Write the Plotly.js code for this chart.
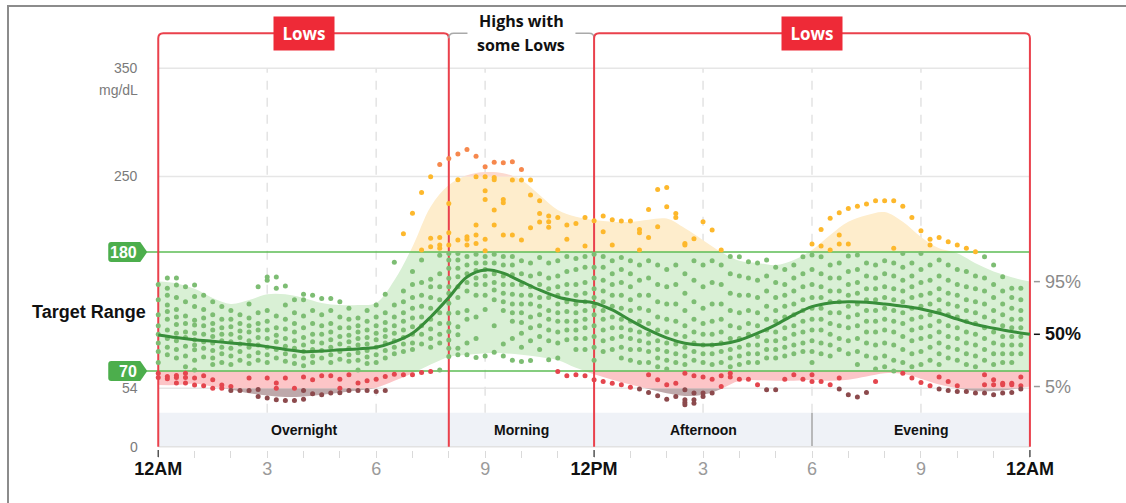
<!DOCTYPE html>
<html><head><meta charset="utf-8">
<script src="https://cdn.plot.ly/plotly-3.0.1.min.js"></script>
<style>
html,body{margin:0;padding:0;background:#fff;overflow:hidden}
#chart{width:1126px;height:503px;position:absolute;left:0;top:0}
#frame{position:absolute;left:7px;top:5px;width:1200px;height:600px;border-left:2px solid #8c8c8c;border-top:2px solid #8c8c8c;pointer-events:none}
</style></head><body>
<div id="chart"></div><div id="frame"></div>
<script>
// ---------------- DATA ----------------
const pctHours = [0,0.5,1,1.5,2,2.5,3,3.5,4,4.5,5,5.5,6,6.5,7,7.5,8,8.5,9,9.5,10,10.5,11,11.5,12,12.5,13,13.5,14,14.5,15,15.5,16,16.5,17,17.5,18,18.5,19,19.5,20,20.5,21,21.5,22,22.5,23,23.5,24];
const p95 = [152.7,151,146,137.6,132,135.7,141,141,137.6,133,131,131,133,154,185,222,242,251,254,253,246.6,232.7,219,212.7,209.6,208,208,210,211,202,191,180,172,170,168,172.7,182,195.8,208,214,217,208,194,183.5,179,169.6,162,156.7,152.7];
const p50 = [103.4,101,99,97.5,96,94.5,92.6,90,88,88.5,89.6,90.5,92,97,105,120,138,157,163.5,160.5,152.7,145,138.5,135,133,126.5,117,108,100.6,95.7,94,95,98.5,105,112.7,122,129.6,133,134,133.6,132,130,127.4,123.4,118,113,109.6,106.5,104];
const p5 = [57,57,58.5,55.5,53,49.5,47.5,46,46.5,48,50,52,54.5,61,68,76,83,85,86.5,86.5,85,83,80,73,67,62,57.5,53.5,49.5,47,48,53.5,61,61.5,61,61,62,61,62,65,68,67.5,63,57.5,54,51.5,51.5,53,55.7];
const pctLabels = ['95%','50%','5%'];

const veryLow = 54, low = 70, high = 180, veryHigh = 250;

const periodNames = ['Overnight','Morning','Afternoon','Evening'];
const periodStarts = [0,8,12,18];
const periodEnds = [8,12,18,24];
const patternStarts = [0,8,12];
const patternEnds = [8,12,24];
const patternLabels = ['Lows','Highs with|some Lows','Lows'];
const patternIsLow = [true,false,true];

const xTickVals = [0,3,6,9,12,15,18,21,24];
const xTickText = ['12AM','3','6','9','12PM','3','6','9','12AM'];
const yTickVals = [0,54,250,350];
const yTickText = ['0','54','250','350'];
const yUnit = 'mg/dL';
const targetLabel = 'Target Range';

const slotHours = 0.25; // readings grouped every 15 minutes

const overnightReadings = [
 [150,136,122,112,104,96,88,78,68,64],
 [156,146.5,140,131,125,118,108,100,92,85,65,63],
 [156,149.6,138,127,120,113,105,98,90,82,66,64,59],
 [148,134,121,114,106,101,93,84,74,68,64,59],
 [149.6,139,129.6,117,112.6,105,99,94,89.6,80,71,63.5,57],
 [140,127,119,112,104,97,91,83,65.6,56.4],
 [134,122,114,108,102,96,89,82,76,62,54],
 [129.6,118,110,104,98,92,86,78,57,54],
 [126,118,111,104,97,91,84,76,55.7,52],
 [122,114,107,101,95,88,80,52],
 [132,119,112,106,98,92,84,77,63.5,52],
 [148,124,114,108,101,94,87,80,53,46.5],
 [157,154,126,116,108,100,92,85,78,63.5,45],
 [157,146.5,121,110,103,97,90,82,59,54,43.4],
 [148.7,131,118,109,100,93,86,79,63.5,42.8],
 [136,124,114,106,98,91,84,77,54,42.8],
 [141,136,121,110,101,94,88,82,75,64.4,52,44],
 [140,126,114,104,97,90,84,78,62,49],
 [137,122,112,104,96,89,82,65.6,48],
 [137,126,114,106,99,92,85,78,65.6,49.6],
 [134,120,110,102,95,88,81,62.5,54,50],
 [128,118,110,103,97,91,85,79,66.5,52],
 [119,112,106,100,94,87,80,71,59,52],
 [126,116,108,101,95,89,83,77,61,52],
 [131,120,112,105,99,92,85,78,62.5,51],
 [141,124,115,108,102,96,89,82,65,52],
 [170.5,131,120,112,105,98,92,86,67],
 [197,144,134,124,116,108,101,95,88,66.5],
 [216,162,150,138,128,119,111,104,96,90,66.5],
 [235,182,172.7,152,140,130,120,112,104,95,68.7],
 [249.6,192.7,185,155,148,138,128,118,109,100,92,69.6],
 [261,193.6,186.5,183.5,177,160,148,136,124,114,104,96,71]
];
const morningReadings = [
 [266.6,225,198,186.5,178.8,172.7,165,155.8,148,141.9,132.7,123.5,114.2,106.5,98.8,91.1,83.4],
 [270.6,247,191.2,178.8,172.7,165,157.3,148,138,124,111,103.5,91,85],
 [274.9,194.2,191.8,186.5,176,168,160,152,144,126,118,96,85],
 [268.7,249.6,205,195.8,188,178,170,163,156,150,140,120,100,82.5],
 [258.9,249.6,236.7,228.7,191.8,181.3,176,170,164,158,150,140,127,84],
 [263,249,247,218.9,205,178,170,160,152,145,136,112,87.4],
 [262.6,228.7,225.6,195.8,176,168,158,150,142,134,126,95,84],
 [263.5,246.6,195.8,176,168,159,150,141,132,124,116,100,80],
 [256.4,246.6,191.2,172,160,150,140,132,124,115,105,92,78.8],
 [246.6,232.7,202.5,170,158,148,140,132,120,110,98,79.7],
 [227.5,215.8,207.8,175,160,150,138,130,122,112,102,90],
 [213.3,208,202.9,170,156,146,138,126,118,108,98,80.4],
 [212,181.9,172,158,148,140,132,124,116,106,96,82,69.6],
 [205,191.8,176,162,150,142,134,125,116,108,99,65.6],
 [206.5,174,164,150,140,132,124,116,108,100,90,66.5],
 [212,185.6,176,166,152,142,134,126,118,110,100,90,65.6]
];
const afternoonReadings = [
 [209,178,166,156,146,138,130,122,112,102,92,80,61.9],
 [213.3,198.9,176,166,154,144,134,126,118,108,98,88,60.4],
 [210,186.5,172,160,150,140,130,120,110,100,90,58.8],
 [208.7,175,164,152,140,128,118,110,102,92,82,57.3],
 [208.7,172,160,148,136,126,116,108,100,90,80,55.1],
 [201,198,181.9,168,154,140,128,116,106,98,90,78,53.3],
 [219.5,193.6,172,156,140,126,114,104,96,88,78,66.5,50.2],
 [238,203.5,168,150,134,120,108,98,90,82,74,61.9,47.1],
 [239.8,222,164,148,132,118,106,96,88,80,72,57.3,44],
 [215.8,212,168,150,132,116,104,95,86,78,58.8,46.5],
 [188,186.5,160,142,126,112,102,92,84,76,68,52.6,43.4,41,38.8],
 [192.4,172,154,134,118,106,96,88,80,65.6,49.6,43.4,40.3],
 [208,168,148,128,114,104,94,86,78,64.4,49.6,46.5],
 [200.4,172,152,132,116,104,94,86,76,62.5,49.6],
 [181.9,168,150,132,118,106,96,88,78,65.6,55.7],
 [176,160,142,126,112,100,90,82,74,68,64.4],
 [175.8,158,140,124,110,100,92,84,76,62.5],
 [171,156,140,126,114,104,94,86,78,62.5],
 [170,154,138,124,112,102,94,86,78,57.3],
 [172.7,158,144,130,118,108,98,90,82,52.6],
 [166,152,138,126,116,106,98,90,82,52.6],
 [164,150,140,130,120,110,100,92,84,62.5],
 [168,156,144,132,122,112,104,94,86,66.5],
 [175.8,160,148,136,126,116,106,96,88,62.5]
];
const eveningReadings = [
 [187.5,177.3,164,150,138,128,118,108,98,88,78,66.5,60.4],
 [201,185.6,175.8,160,148,138,128,118,108,96,86,60.4],
 [211.2,181.9,168,156,144,134,124,114,104,94,84,57.3],
 [216.4,195.8,187.5,170,156,144,134,124,112,100,90,63.5,53.3],
 [220.4,187.5,176.4,162,150,140,130,120,110,98,86,48],
 [222.5,177.3,164,152,142,132,122,112,100,88,76,45.9],
 [224.4,170,158,146,136,126,116,106,96,84,50.2],
 [227.5,168,156,146,136,126,116,106,94,82,72,60.4],
 [227.5,172,160,148,138,128,118,108,96,84,74],
 [227.5,183.5,170,158,146,136,126,116,106,94,80,70],
 [222.5,178.8,166,154,144,134,124,114,102,90,78,68],
 [212,170,158,148,138,128,118,108,98,86,74,63.5],
 [199.8,178.8,164,152,140,130,120,110,100,88,76,59.4],
 [191.8,186.5,168,154,142,132,122,112,102,92,80,56.4],
 [193.6,172.7,158,146,136,126,116,106,96,86,76,64.4,53.3],
 [189.6,168,154,142,132,122,112,102,92,82,60.4,52],
 [186.5,164,150,140,130,120,110,100,90,80,56.4,51.2],
 [183.5,162,148,136,126,116,106,96,86,76,51.2],
 [180.4,158,146,134,124,114,104,94,84,74,49.6],
 [175.8,156,144,132,120,110,100,90,80,66.5,57.3,49.6],
 [168,150,138,126,116,106,96,86,76,61.9,57.3,48],
 [157.3,144,132,122,112,102,94,86,78,58.8,57.3,49.6],
 [146.5,138,128,118,110,102,94,86,78,58.8,57.3,50.2],
 [146.5,136,126,118,110,102,94,86,64.4,56.4,53.3]
];

// ---------------- STYLE / GEOMETRY ----------------
const FONT = 'Liberation Sans, Arial, Helvetica, sans-serif';
const FONT2 = 'Open Sans, Noto Sans, sans-serif';
const hourRange = [-0.42, 24.25];
const glucoseRange = [-3, 390];
const boxTop = 382.3;
const bandTop = 31.4;
const C = {
  green:'#7dbd73', yellow:'#fdb82c', orange:'#f6884d', red:'#e4464e', dark:'#8c4a4d',
  median:'#388e3a', redLine:'#ea414c', lowsBg:'#ee2a37', tag:'#4cae4c', thr:'#5cbc55',
  fGreen:'#d9f0d5', fYellow:'#feedcc', fSalmon:'#fcdad0', fRed:'#fcc5c7', fDark:'#bea9ab'
};
function dotColor(v){
  if (v >= veryHigh) return C.orange;
  if (v > high) return C.yellow;
  if (v >= low) return C.green;
  if (v >= veryLow) return C.red;
  return C.dark;
}
const span = glucoseRange[1]-glucoseRange[0];
function dom(lo,hi){ return [(lo-glucoseRange[0])/span, (hi-glucoseRange[0])/span]; }
function xPaper(h){ return (h-hourRange[0])/(hourRange[1]-hourRange[0]); }

// ---------------- TRACES ----------------
const traces = [];
const bands = [
  {lo:glucoseRange[0], hi:veryLow, color:C.fDark},
  {lo:veryLow, hi:low, color:C.fRed},
  {lo:low, hi:high, color:C.fGreen},
  {lo:high, hi:veryHigh, color:C.fYellow},
  {lo:veryHigh, hi:glucoseRange[1], color:C.fSalmon}
];
const layoutAxes = {};
bands.forEach((b,i)=>{
  const n = i+2;
  layoutAxes['yaxis'+n] = {domain:dom(b.lo,b.hi), range:[b.lo,b.hi], anchor:'x', visible:false, fixedrange:true};
  traces.push({x:pctHours, y:p5, yaxis:'y'+n, mode:'lines', line:{width:0, shape:'spline'}, hoverinfo:'skip', showlegend:false});
  traces.push({x:pctHours, y:p95, yaxis:'y'+n, mode:'lines', line:{width:0, shape:'spline'}, fill:'tonexty', fillcolor:b.color, hoverinfo:'skip', showlegend:false});
});
const topAxis = 'y7';
layoutAxes.yaxis7 = {domain:[0,1], range:glucoseRange, anchor:'x', visible:false, fixedrange:true};

const dotX = [], dotY = [], dotC = [];
[overnightReadings, morningReadings, afternoonReadings, eveningReadings].forEach((cols,pi)=>{
  cols.forEach((col,ci)=>{
    const h = periodStarts[pi] + ci*slotHours;
    col.forEach(v=>{ dotX.push(h); dotY.push(v); dotC.push(dotColor(v)); });
  });
});
traces.push({x:dotX, y:dotY, yaxis:topAxis, mode:'markers', marker:{size:5, color:dotC}, hoverinfo:'skip', showlegend:false, cliponaxis:false});
traces.push({x:pctHours, y:p50, yaxis:topAxis, mode:'lines', line:{color:C.median, width:3, shape:'spline'}, hoverinfo:'skip', showlegend:false});

// ---------------- SHAPES ----------------
const shapes = [];
// period band
periodStarts.forEach((s,i)=>{
  shapes.push({type:'rect', xref:'x', yref:'y', x0:s, x1:periodEnds[i], y0:0, y1:bandTop, fillcolor:'#eff2f7', line:{width:0}, layer:'below'});
});
shapes.push({type:'line', xref:'x', yref:'y', x0:18, x1:18, y0:0, y1:bandTop, line:{color:'#a6a6a6', width:1.5}, layer:'below'});
shapes.push({type:'line', xref:'x', yref:'y', x0:0, x1:24, y0:0, y1:0, line:{color:'#e2e2e2', width:1.5}, layer:'below'});
// horizontal grid
[350,250,veryLow].forEach(v=>{
  shapes.push({type:'line', xref:'x', yref:'y', x0:0, x1:24, y0:v, y1:v, line:{color:'#e6e6e6', width:1.5}, layer:'below'});
});
// dashed vertical grid
xTickVals.filter(h=>h%12!==0).forEach(h=>{
  shapes.push({type:'line', xref:'x', yref:'y', x0:h, x1:h, y0:bandTop, y1:350, line:{color:'#e3e3e3', width:1.5, dash:'9px,8px'}, layer:'below'});
});
// threshold lines (above fills)
const pxH = 36.33, pxG = 1.0814;
[high, low].forEach(v=>{
  shapes.push({type:'line', xref:'x', yref:topAxis, x0:-12/pxH, x1:24, y0:v, y1:v, line:{color:C.thr, width:1.5}, layer:'below'});
});
// pattern boxes
const rx = 5/pxH, ry = 5/pxG;
patternStarts.forEach((a,i)=>{
  const b = patternEnds[i];
  if (patternIsLow[i]) {
    const p = `M ${a},0 L ${a},${boxTop-ry} Q ${a},${boxTop} ${a+rx},${boxTop} L ${b-rx},${boxTop} Q ${b},${boxTop} ${b},${boxTop-ry} L ${b},0`;
    shapes.push({type:'path', xref:'x', yref:topAxis, path:p, line:{color:C.redLine, width:2}, layer:'below'});
  } else {
    const gap = 54/pxH, mid=(a+b)/2;
    const p1 = `M ${a},${boxTop-ry} Q ${a},${boxTop} ${a+rx},${boxTop} L ${mid-gap},${boxTop}`;
    const p2 = `M ${mid+gap},${boxTop} L ${b-rx},${boxTop} Q ${b},${boxTop} ${b},${boxTop-ry}`;
    shapes.push({type:'path', xref:'x', yref:topAxis, path:p1, line:{color:'#a9a9a9', width:1.5}, layer:'below'});
    shapes.push({type:'path', xref:'x', yref:topAxis, path:p2, line:{color:'#a9a9a9', width:1.5}, layer:'below'});
  }
});
// threshold tags
[high, low].forEach(v=>{
  shapes.push({type:'path', xref:'paper', yref:topAxis, xsizemode:'pixel', ysizemode:'pixel', xanchor:xPaper(0), yanchor:v,
    path:'M -47,10 L -18,10 L -11,0 L -18,-10 L -47,-10 Q -50,-10 -50,-7 L -50,7 Q -50,10 -47,10 Z',
    fillcolor:C.tag, line:{width:0}});
});
// dark x ticks at 12AM/12PM
xTickVals.filter(h=>h%12===0).forEach(h=>{
  shapes.push({type:'line', xref:'x', yref:'paper', ysizemode:'pixel', yanchor:0, x0:h, x1:h, y0:0, y1:-7, line:{color:'#555', width:1.5}});
});
// percentile dashes at the right
const pctEnd = [p95[p95.length-1], p50[p50.length-1], p5[p5.length-1]];
pctEnd.forEach((v,i)=>{
  shapes.push({type:'line', xref:'paper', yref:topAxis, xsizemode:'pixel', xanchor:xPaper(24), x0:4, x1:10, y0:v, y1:v,
    line:{color: i===1 ? '#111' : '#999', width:1.5}});
});

// ---------------- ANNOTATIONS ----------------
const ann = [];
yTickVals.forEach((v,i)=>{
  ann.push({xref:'x', yref:'y', x:0, y:v, xanchor:'right', xshift:-18, text:yTickText[i], showarrow:false, font:{family:FONT, size:14, color:'#7a7a7a'}});
});
ann.push({xref:'x', yref:'y', x:0, y:350, xanchor:'right', xshift:-18, yshift:-22, text:yUnit, showarrow:false, font:{family:FONT, size:14, color:'#7a7a7a'}});
[high, low].forEach(v=>{
  ann.push({xref:'x', yref:'y', x:0, y:v, xanchor:'right', xshift:-19, text:'<b>'+v+'</b>', showarrow:false, font:{family:FONT, size:16, color:'#fff'}});
});
ann.push({xref:'x', yref:'y', x:0, y:(low+high)/2, xanchor:'right', xshift:-10, text:'<b>'+targetLabel+'</b>', showarrow:false, font:{family:FONT, size:18, color:'#111'}});
pctLabels.forEach((t,i)=>{
  ann.push({xref:'x', yref:'y', x:24, y:pctEnd[i], xanchor:'left', xshift:13, text: i===1 ? '<b>'+t+'</b>' : t, showarrow:false,
    font:{family:FONT, size:18, color: i===1 ? '#111' : '#8a8a8a'}});
});
patternStarts.forEach((a,i)=>{
  const mid = (a+patternEnds[i])/2;
  if (patternIsLow[i]) {
    ann.push({xref:'x', yref:'y', x:mid, y:boxTop, text:'<b>'+patternLabels[i]+'</b>', showarrow:false, width:60, height:33, borderpad:0,
      bgcolor:C.lowsBg, font:{family:FONT2, size:17, color:'#fff'}});
  } else {
    patternLabels[i].split('|').forEach((line,k)=>{
      ann.push({xref:'x', yref:'y', x:mid, y:boxTop, yshift: k===0 ? 12 : -12, text:'<b>'+line+'</b>', showarrow:false,
        font:{family:FONT2, size:16, color:'#111'}});
    });
  }
});
periodNames.forEach((n,i)=>{
  ann.push({xref:'x', yref:'y', x:(periodStarts[i]+periodEnds[i])/2, y:bandTop/2, text:'<b>'+n+'</b>', showarrow:false, font:{family:FONT, size:14, color:'#111'}});
});

const tickText = xTickText.map((t,i)=> xTickVals[i]%12===0 ? '<b><span style="color:#111">'+t+'</span></b>' : t);

const layout = Object.assign({
  width:1126, height:503,
  margin:{l:143, r:87, t:25, b:53, pad:0},
  paper_bgcolor:'#fff', plot_bgcolor:'rgba(0,0,0,0)',
  font:{family:FONT},
  showlegend:false,
  xaxis:{range:hourRange, tickvals:xTickVals, ticktext:tickText, ticks:'', showgrid:false, zeroline:false, showline:false,
    tickfont:{family:FONT, size:18, color:'#9a9a9a'}, ticklabelstandoff:6, fixedrange:true,
    minor:{ticks:'outside', dtick:1, tick0:0, ticklen:7, tickwidth:1, tickcolor:'#dadada', showgrid:false}},
  yaxis:{range:glucoseRange, visible:false, fixedrange:true},
  shapes:shapes, annotations:ann, hovermode:false
}, layoutAxes);

Plotly.newPlot('chart', traces, layout, {staticPlot:true, displayModeBar:false});
</script></body></html>
